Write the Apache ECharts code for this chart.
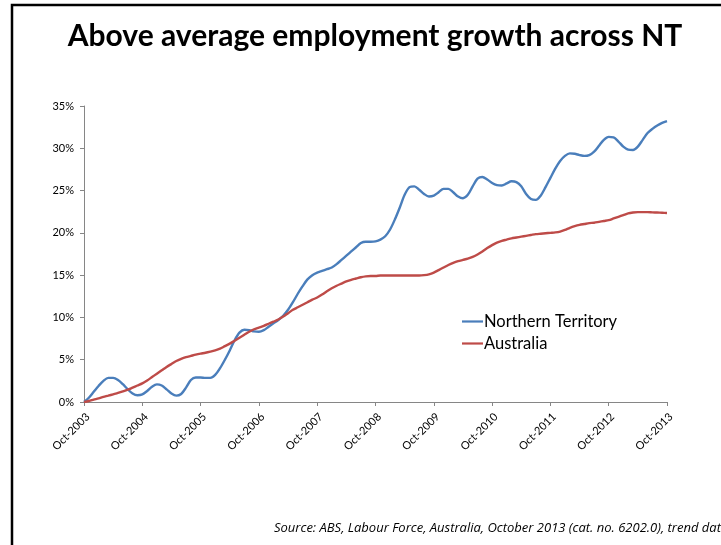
<!DOCTYPE html>
<html>
<head>
<meta charset="utf-8">
<script src="https://cdn.jsdelivr.net/npm/echarts@6/dist/echarts.min.js"></script>
<style>html,body{margin:0;padding:0;background:#fff;}#c{width:721px;height:545px;}</style>
</head>
<body>
<div id="c"></div>
<script>
// Tick labels (one per October) and monthly categories Oct-2003 .. Oct-2013
const tickLabels = ['Oct-2003','Oct-2004','Oct-2005','Oct-2006','Oct-2007','Oct-2008',
  'Oct-2009','Oct-2010','Oct-2011','Oct-2012','Oct-2013'];
const monthNames = ['Oct','Nov','Dec','Jan','Feb','Mar','Apr','May','Jun','Jul','Aug','Sep'];
const categories = [];
for (let i = 0; i <= 120; i++) {
  const yr = 2003 + Math.floor((i + 9) / 12);
  categories.push(monthNames[i % 12] + '-' + yr);
}
// Employment growth since Oct-2003 (%), monthly
const northernTerritory = [
 0, 0.5, 1.2, 1.9, 2.5, 2.85, 2.85, 2.6, 2.1, 1.5, 1.0, 0.8,
 0.9, 1.3, 1.8, 2.08, 1.95, 1.5, 1.0, 0.75, 0.95, 1.7, 2.6, 2.9,
 2.9, 2.85, 2.85, 3.2, 4.0, 5.0, 6.1, 7.3, 8.2, 8.55, 8.5, 8.35,
 8.3, 8.5, 8.9, 9.3, 9.7, 10.2, 10.9, 11.8, 12.8, 13.7, 14.5, 15.0,
 15.3, 15.5, 15.7, 15.9, 16.3, 16.8, 17.3, 17.8, 18.3, 18.8, 18.95, 18.95,
 19.0, 19.2, 19.6, 20.4, 21.6, 23.0, 24.5, 25.4, 25.5, 25.1, 24.6, 24.3,
 24.4, 24.8, 25.2, 25.2, 24.8, 24.3, 24.1, 24.5, 25.5, 26.4, 26.6, 26.3,
 25.9, 25.65, 25.6, 25.85, 26.1, 26.0, 25.5, 24.6, 24.0, 23.9, 24.4, 25.4,
 26.5, 27.6, 28.5, 29.1, 29.4, 29.35, 29.2, 29.1, 29.2, 29.6, 30.3, 31.0,
 31.35, 31.3, 30.8, 30.2, 29.85, 29.8, 30.2, 31.0, 31.8, 32.3, 32.7, 33.0,
 33.2
];
const australia = [
 0, 0.12, 0.28, 0.43, 0.6, 0.75, 0.91, 1.07, 1.25, 1.45, 1.7, 1.95,
 2.2, 2.55, 2.95, 3.35, 3.75, 4.15, 4.5, 4.85, 5.1, 5.3, 5.45, 5.6,
 5.72, 5.82, 5.95, 6.1, 6.3, 6.6, 6.9, 7.25, 7.6, 7.95, 8.3, 8.6,
 8.8, 9.0, 9.25, 9.5, 9.75, 10.1, 10.5, 10.9, 11.2, 11.5, 11.8, 12.1,
 12.35, 12.7, 13.1, 13.45, 13.75, 14.0, 14.25, 14.45, 14.6, 14.75, 14.85, 14.9,
 14.9, 14.95, 14.95, 14.95, 14.95, 14.95, 14.95, 14.95, 14.95, 14.95, 15.0, 15.1,
 15.3, 15.6, 15.9, 16.2, 16.45, 16.65, 16.8, 16.95, 17.15, 17.45, 17.8, 18.2,
 18.55, 18.85, 19.05, 19.2, 19.35, 19.45, 19.55, 19.65, 19.75, 19.85, 19.9, 19.95,
 20.0, 20.05, 20.15, 20.35, 20.6, 20.8, 20.95, 21.05, 21.15, 21.2, 21.3, 21.4,
 21.5, 21.7, 21.9, 22.1, 22.3, 22.4, 22.45, 22.45, 22.45, 22.42, 22.4, 22.38,
 22.35
];
const yTicks = [0, 5, 10, 15, 20, 25, 30, 35];

const chart = echarts.init(document.getElementById('c'));
chart.setOption({
  animation: false,
  backgroundColor: '#fff',
  title: {
    text: 'Above average employment growth across NT',
    left: 370, top: 16, textAlign: 'center',
    textStyle: { fontFamily: 'Lato', fontWeight: 'bold', fontSize: 30, color: '#000' }
  },
  graphic: [
    { type: 'rect', shape: { x: 12, y: 5, width: 800, height: 600 },
      style: { fill: 'none', stroke: '#000', lineWidth: 2.5 }, silent: true },
    { type: 'text', left: 274, top: 522,
      style: { text: 'Source: ABS, Labour Force, Australia, October 2013 (cat. no. 6202.0), trend data',
        font: 'italic 13px "Open Sans"', fill: '#000' } }
  ],
  legend: {
    orient: 'vertical', left: 457, top: 308, itemGap: 5,
    itemWidth: 21, itemHeight: 12,
    icon: 'path://M0,0 L21,0 L21,2.2 L0,2.2 Z',
    textStyle: { fontFamily: 'Lato', fontSize: 16.5, color: '#000', padding: [0,0,0,-4] },
    data: ['Northern Territory', 'Australia']
  },
  grid: { left: 84, right: 54, top: 106, bottom: 143, containLabel: false },
  xAxis: {
    type: 'category', data: categories, boundaryGap: false,
    axisLine: { lineStyle: { color: '#868686', width: 1 } },
    axisTick: { interval: 11, length: 4, lineStyle: { color: '#868686' } },
    axisLabel: { interval: 11, rotate: 45, fontFamily: 'Lato', fontSize: 11, color: '#000', margin: 9,
      verticalAlign: 'top',
      formatter: v => tickLabels.includes(v) ? v : '' }
  },
  yAxis: {
    type: 'value', min: 0, max: 35, interval: 5,
    axisLine: { show: true, lineStyle: { color: '#868686', width: 1 } },
    axisTick: { show: true, length: 4, lineStyle: { color: '#868686' } },
    splitLine: { show: false },
    axisLabel: { fontFamily: 'Lato', fontSize: 11, color: '#000', margin: 10,
      formatter: v => yTicks.includes(v) ? v + '%' : '' }
  },
  series: [
    { name: 'Northern Territory', type: 'line', data: northernTerritory, smooth: 0.3,
      showSymbol: false, lineStyle: { color: '#4A7EBB', width: 2.4 }, itemStyle: { color: '#4A7EBB' } },
    { name: 'Australia', type: 'line', data: australia, smooth: 0.3,
      showSymbol: false, lineStyle: { color: '#BE4B48', width: 2.4 }, itemStyle: { color: '#BE4B48' } }
  ]
});
</script>
</body>
</html>
